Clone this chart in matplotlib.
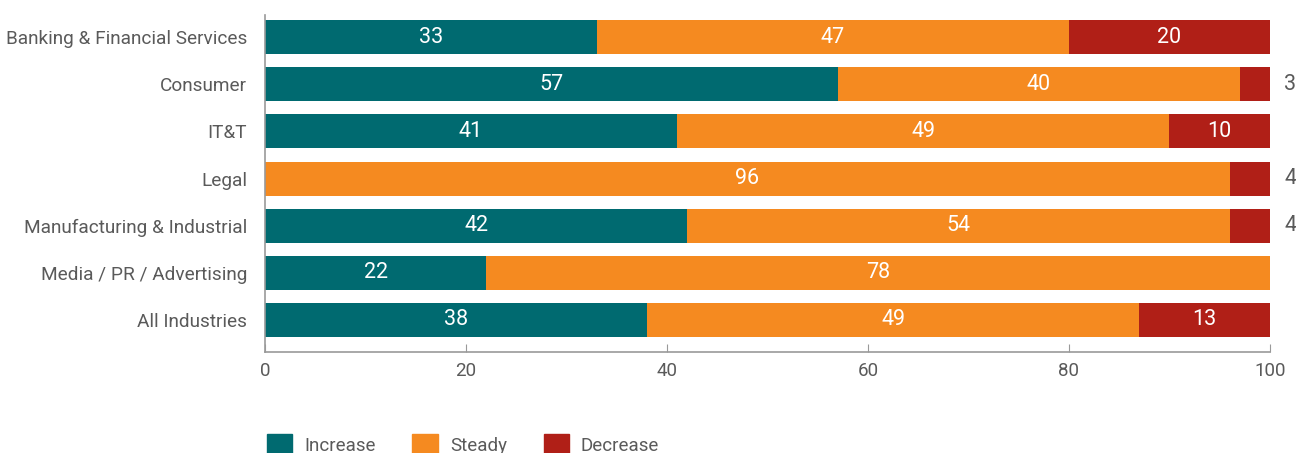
import matplotlib
matplotlib.use("Agg")
import matplotlib.pyplot as plt
from matplotlib.patches import Patch
import numpy as np

kategoriyalar = ["Banking & Financial Services", "Consumer", "IT&T", "Legal",
                 "Manufacturing & Industrial", "Media / PR / Advertising", "All Industries"]
increase = [33, 57, 41, 0, 42, 22, 38]
steady = [47, 40, 49, 96, 54, 78, 49]
decrease = [20, 3, 10, 4, 4, 0, 13]
xticks = [0, 20, 40, 60, 80, 100]

ranglar = {"Increase": "#006a70", "Steady": "#f58a20", "Decrease": "#b01f17"}
matn_rangi = "#5a5a5a"

plt.rcParams["font.family"] = ["Roboto", "DejaVu Sans"]

fig = plt.figure(figsize=(12.96, 4.53), dpi=100)
ax = fig.add_axes([265 / 1296, 1 - 352 / 453, 1005 / 1296, 337 / 453])

y = np.arange(len(kategoriyalar))
chap = np.zeros(len(kategoriyalar))
for nom, qiymatlar in [("Increase", increase), ("Steady", steady), ("Decrease", decrease)]:
    qiymatlar = np.array(qiymatlar, dtype=float)
    ax.barh(y, qiymatlar, left=chap, height=0.72, color=ranglar[nom], label=nom)
    for i, (l, v) in enumerate(zip(chap, qiymatlar)):
        if v == 0:
            continue
        if v >= 8:
            ax.text(l + v / 2, i, f"{v:.0f}", ha="center", va="center",
                    color="white", fontsize=15.5)
        else:
            ax.text(102, i, f"{v:.0f}", ha="center", va="center",
                    color=matn_rangi, fontsize=15.5, clip_on=False)
    chap += qiymatlar

ax.set_xlim(0, 100)
ax.set_ylim(6.68, -0.47)
ax.set_yticks(y)
ax.set_yticklabels(kategoriyalar, fontsize=13.7, color=matn_rangi)
ax.set_xticks(xticks)
ax.set_xticklabels([str(t) for t in xticks], fontsize=13.5, color=matn_rangi)
ax.tick_params(axis="y", length=0, pad=13)
ax.tick_params(axis="x", direction="in", length=6, color="#999999", pad=7)
for s in ["top", "right"]:
    ax.spines[s].set_visible(False)
for s in ["left", "bottom"]:
    ax.spines[s].set_color("#999999")
    ax.spines[s].set_linewidth(1.2)

handles = [Patch(color=ranglar[k]) for k in ["Increase", "Steady", "Decrease"]]
fig.legend(handles, ["Increase", "Steady", "Decrease"], loc="lower left",
           bbox_to_anchor=(250 / 1296, -0.045), ncol=3, frameon=False,
           fontsize=13.5, handlelength=1.35, handleheight=1.5, columnspacing=1.95,
           handletextpad=0.65, labelcolor=matn_rangi)

plt.savefig("out.png", dpi=100)
plt.close()
